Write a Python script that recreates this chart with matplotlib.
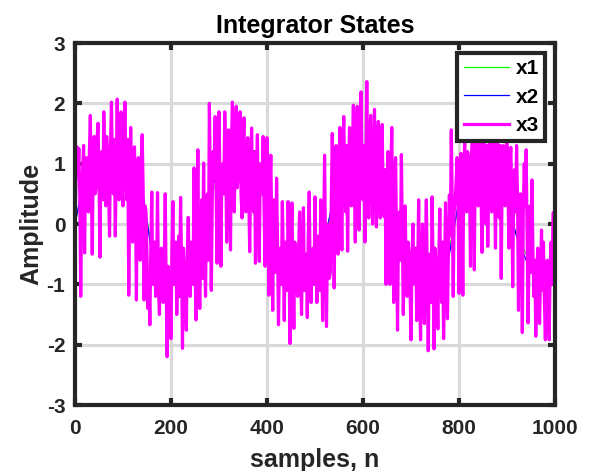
import numpy as np
import matplotlib
matplotlib.use('Agg')
import matplotlib.pyplot as plt

# x3, one value every 2 samples (n = 0, 2, ..., 998)
x3 = [
    0.0, 0.7, 1.28, 0.8, 1.25, 0.5, -1.2, 0.4, 0.9, 1.3, -0.48, 0.9, 1.1, 0.6, 0.2, 1.2,
    1.8, 0.7, -0.5, 1.0, 1.45, 0.5, 0.6, 1.4, 1.67, 0.8, -0.55, 1.1, 1.2, 0.4, 1.86, 0.9,
    0.3, 1.45, 1.1, 0.6, -0.2, 1.3, 2.02, 0.8, 0.5, 1.4, -0.2, 0.9, 2.07, 0.7, 0.4, 1.3,
    1.86, 0.6,
    0.3, 1.2, 2.02, 0.9, 0.4, 1.4, -1.18, 0.5, 1.6, 0.8, -0.3, 1.1, 1.28, 0.4, -1.26, 0.9,
    1.1, 0.3, -0.6, 1.0, 1.48, 0.6, -1.26, 0.3, 0.2, -0.5, -1.4, -0.9, -1.67, -0.4, 0.53, -1.0,
    -0.6, -0.3, -1.2, -0.8, 0.52, -1.1, -1.5, -0.5, -0.4, -1.2, -1.3, -0.6, 0.5, -1.0, -2.2, -0.7,
    -0.9, -1.2,
    -1.9, -0.4, 0.37, -1.0, -0.7, -0.3, -1.5, -0.9, -0.2, -1.2, 0.44, -0.6, -2.06, -0.4, -0.8, -1.1,
    -1.76, -0.5, 0.11, -0.9, -1.2, -0.3, -0.5, -1.0, 0.93, -0.6, -1.59, -0.2, 1.23, -0.7, -1.4, -0.3,
    0.4, -0.9, 1.01, -0.4, -1.2, 0.3, 0.5, -0.6, 2.0, 0.6, -1.1, 0.4, 1.2, 0.9, 1.78, 0.5,
    -0.65, 1.1,
    1.86, 0.7, -0.7, 0.9, 1.0, 0.5, 1.86, 1.2, -0.3, 0.8, 1.56, 0.6, -0.43, 1.3, 2.02, 0.7,
    0.2, 1.4, 1.95, 0.6, 0.8, 1.3, 1.86, 0.5, 0.1, 1.2, 1.76, 0.6, 0.2, 1.1, 1.43, 0.5,
    -0.46, 0.9, 1.59, 0.4, 0.2, 1.2, -0.65, 0.6, 1.48, 0.3, -0.62, 1.0, 0.8, 0.5, 1.45, 0.2,
    -0.7, 0.6,
    1.43, 0.3, -1.18, 0.5, 1.14, -0.2, -1.43, 0.4, 0.2, -0.8, 0.76, -0.3, -1.67, -0.6, -0.4, -1.0,
    0.37, -0.5, -1.6, -0.3, -0.5, -1.1, 0.37, -0.6, -1.98, -0.4, 0.35, -0.9, -1.73, -0.3, -0.5, -1.0,
    -1.2, -0.4, 0.2, -0.8, -1.5, -0.3, 0.27, -1.1, -0.9, -0.5, -1.55, -0.2, 0.53, -0.9, -1.3, -0.5,
    -0.4, -1.0,
    0.45, -0.6, -1.3, -0.2, -0.6, -1.1, 0.4, -0.5, -1.6, -0.2, 1.14, -0.4, -1.7, -0.3, 0.0, -0.9,
    -0.8, 0.4, 1.5, 0.6, -1.06, 0.5, 1.3, 0.8, -0.5, 1.0, 1.6, 0.4, -0.43, 1.1, 1.78, 0.6,
    0.2, 1.3, -0.45, 0.9, 1.6, 0.5, 0.3, 1.2, 1.97, 0.7, -0.3, 1.4, 1.95, 0.6, -0.1, 1.0,
    2.19, 0.8,
    0.4, 1.3, -0.3, 1.0, 2.36, 0.6, 0.1, 1.4, 1.8, 0.7, 0.0, 1.2, 1.9, 0.5, -0.05, 1.3,
    1.7, 0.6, 0.1, 1.1, 1.65, 0.4, 0.12, 0.9, -1.0, 0.5, 1.2, 0.3, -1.0, 0.8, 1.6, 0.2,
    -1.3, 0.6, 1.1, -0.3, -1.76, 0.0, 0.2, -0.6, 1.15, -0.2, -1.5, -0.5, 0.3, -0.9, -1.2, -0.3,
    -0.5, -1.0,
    -1.92, -0.6, 0.0, -0.9, -1.0, -0.4, -1.6, -0.8, 0.4, -1.1, -1.92, -0.5, 0.0, -1.2, -1.65, -0.4,
    0.4, -0.9, -2.1, -0.5, -0.8, -1.3, 0.45, -0.7, -2.07, -0.4, -0.6, -1.1, -1.74, -0.6, 0.25, -0.9,
    -1.3, -0.3, -1.9, -0.7, 0.35, -1.0, -1.57, -0.4, 0.48, -0.2, 1.56, 0.3, -1.2, 0.2, 0.36, 0.7,
    1.1, 0.5,
    -1.15, 0.6, 1.17, 0.4, -1.18, 0.9, 1.4, 0.5, 0.2, 1.2, 1.06, 0.7, -0.7, 1.1, 1.5, 0.6,
    -0.76, 1.3, 1.8, 0.8, 0.3, 1.2, 1.6, 0.5, -0.47, 1.0, 1.9, 0.6, 0.0, 1.3, -0.37, 0.9,
    1.7, 0.5, 0.2, 1.2, 1.5, 0.7, -0.4, 1.1, 1.85, 0.6, 0.1, 1.3, -0.9, 0.8, 1.3, 0.5,
    0.3, 1.1,
    1.6, 0.7, -0.4, 1.0, 1.27, 0.5, -1.04, 0.6, 0.9, 0.2, 1.3, 0.4, -1.43, 0.1, 0.5, -0.3,
    -1.8, 0.2, 1.0, 0.3, 1.23, -0.2, -1.64, -0.5, 0.3, -0.8, 0.73, -0.4, -1.2, -0.6, -1.86, -1.0,
    -0.4, -1.2, -1.65, -0.7, -0.1, -1.1, -0.3, -1.3, -1.92, -0.8, -0.6, -1.2, -1.92, -0.7, -0.3, -1.0,
    0.18, 0.2,
]

# x1, x2 are mostly hidden under x3, one value every 20 samples
x2 = [
    0.0, 0.8, 0.9, 1.0, 1.0, 1.0, 0.8, 0.6, -0.5, -0.8,
    -0.9, -1.0, -0.8, -0.6, 0.5, 0.9, 1.0, 1.0, 0.9, 0.8,
    0.4, -0.5, -0.8, -0.9, -0.8, -0.6, -0.3, 0.5, 0.9, 1.0,
    1.1, 1.0, 0.9, 0.5, -0.5, -0.8, -1.0, -1.0, -0.9, -0.5,
    0.4, 0.8, 0.9, 0.8, 0.7, 0.4, -0.2, -0.6, -0.9, -0.9,
]
x1 = [
    0.0, 0.7, 0.9, 0.9, 1.0, 0.9, 0.8, 0.5, -0.4, -0.7,
    -0.9, -0.9, -0.8, -0.5, 0.4, 0.8, 0.9, 1.0, 0.9, 0.7,
    0.3, -0.4, -0.7, -0.9, -0.8, -0.5, -0.2, 0.4, 0.8, 0.9,
    1.0, 1.0, 0.8, 0.4, -0.4, -0.7, -0.9, -0.9, -0.8, -0.4,
    0.3, 0.7, 0.8, 0.8, 0.6, 0.3, -0.2, -0.5, -0.8, -0.8,
]

xticks = [0, 200, 400, 600, 800, 1000]
yticks = [-3, -2, -1, 0, 1, 2, 3]

n3 = np.arange(len(x3)) * 2
n12 = np.arange(len(x2)) * 20

plt.rcParams['font.family'] = ['Liberation Sans', 'DejaVu Sans']
plt.rcParams['font.weight'] = 'bold'
plt.rcParams['axes.unicode_minus'] = False

fig = plt.figure(figsize=(5.97, 4.71), dpi=100)
ax = fig.add_axes([0.1256, 0.1401, 0.804, 0.7686])

ax.plot(n12, x1, color='#00ff00', lw=0.9, label='x1')
ax.plot(n12, x2, color='#0000ff', lw=0.9, label='x2')
ax.plot(n3, x3, color='#ff00ff', lw=2.3, label='x3')

ax.set_xlim(0, 1000)
ax.set_ylim(-3, 3)
ax.set_xticks(xticks)
ax.set_yticks(yticks)
ax.grid(True, color='#d9d9d9', lw=2.2)
ax.set_axisbelow(True)
ax.tick_params(direction='in', length=5, width=3, top=True, right=True,
               labelsize=15, colors='#262626')
ax.tick_params(axis='x', pad=10)
ax.tick_params(axis='y', pad=7)
for s in ax.spines.values():
    s.set_linewidth(3)
    s.set_color('#262626')

ax.set_title('Integrator States', fontsize=18, fontweight='bold', pad=7)
ax.set_xlabel('samples, n', fontsize=18, fontweight='bold', color='#262626', labelpad=7)
ax.set_ylabel('Amplitude', fontsize=18, fontweight='bold', color='#262626', labelpad=2)

leg = ax.legend(loc='upper right', bbox_to_anchor=(0.98, 0.972), borderaxespad=0,
                fontsize=15, handlelength=2.2, handletextpad=0.3, labelspacing=0.45,
                borderpad=0.3, fancybox=False, framealpha=1)
leg.get_frame().set_edgecolor('#262626')
leg.get_frame().set_linewidth(3)

fig.savefig('out.png', dpi=100)
